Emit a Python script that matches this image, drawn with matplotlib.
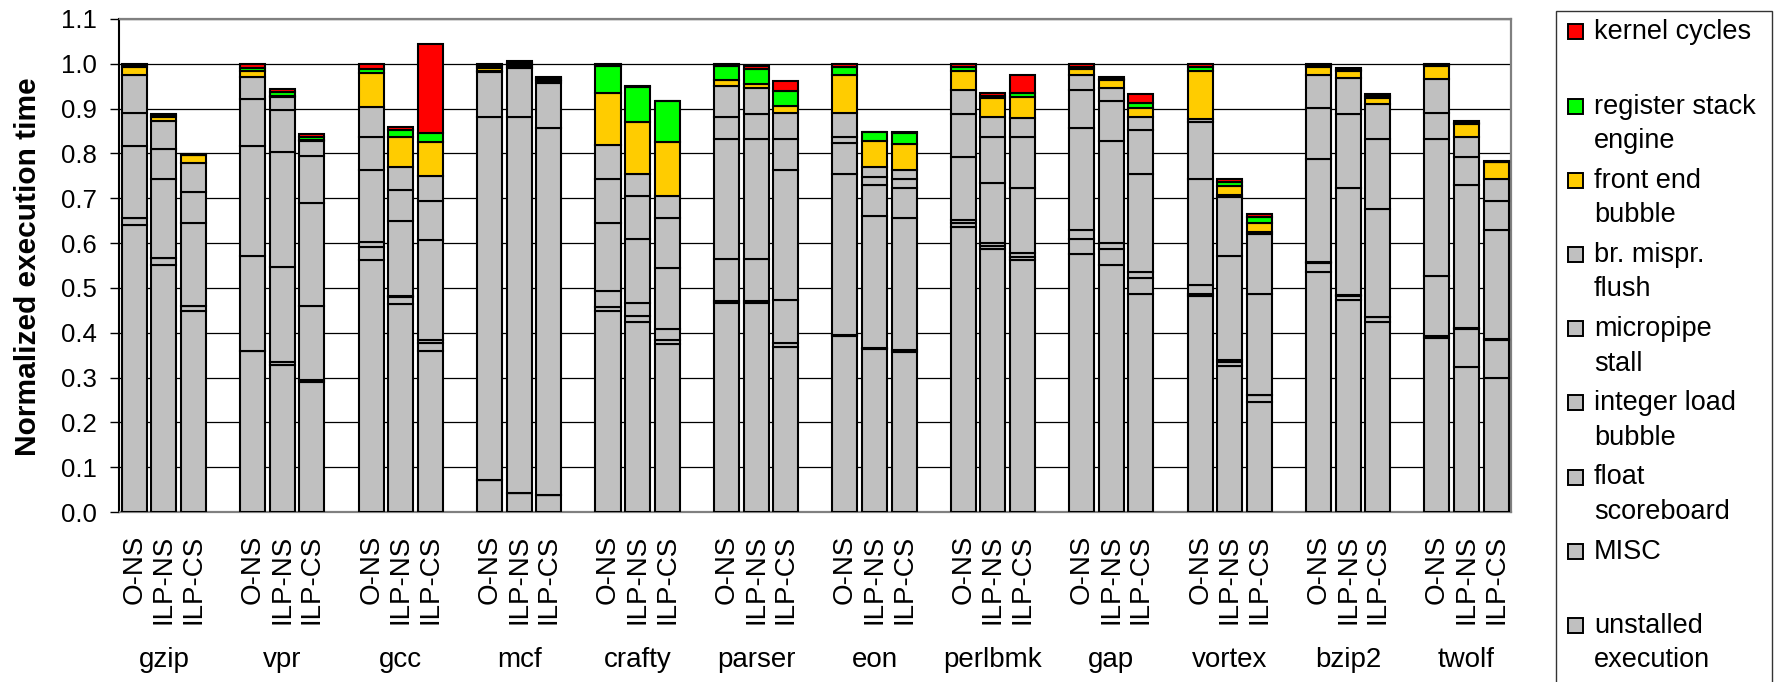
import numpy as np
import matplotlib
matplotlib.use('Agg')
import matplotlib.pyplot as plt
from matplotlib.patches import Rectangle
from matplotlib.transforms import blended_transform_factory

plt.rcParams['font.family'] = ['Liberation Sans', 'DejaVu Sans']

# benchmarks and the three configurations per benchmark
benchmarks = ['gzip', 'vpr', 'gcc', 'mcf', 'crafty', 'parser',
              'eon', 'perlbmk', 'gap', 'vortex', 'bzip2', 'twolf']
configs = ['O-NS', 'ILP-NS', 'ILP-CS']

# stacked components, bottom to top
unstalled = [.640, .552, .448, .359, .327, .290, .562, .464, .359, .071, .042, .037,
             .448, .423, .374, .466, .466, .368, .393, .363, .357, .636, .586, .562,
             .575, .551, .487, .482, .325, .246, .536, .472, .424, .388, .324, .299]
misc = [.015, .015, .011, .000, .008, .005, .030, .015, .019, .000, .000, .000,
        .010, .015, .009, .005, .004, .010, .002, .002, .005, .009, .007, .007,
        .035, .035, .035, .005, .009, .014, .020, .010, .010, .005, .084, .084]
float_sb = [.000, .000, .000, .212, .212, .164, .011, .003, .006, .000, .000, .000,
            .035, .029, .025, .094, .095, .094, .359, .295, .293, .006, .007, .008,
            .020, .015, .014, .020, .006, .002, .002, .002, .002, .133, .002, .002]
int_load = [.162, .177, .186, .246, .257, .231, .160, .168, .222, .811, .840, .820,
            .152, .143, .137, .268, .268, .291, .070, .069, .069, .141, .134, .147,
            .227, .226, .218, .236, .231, .224, .229, .240, .239, .307, .319, .245]
micropipe = [.074, .065, .069, .104, .093, .104, .074, .069, .088, .100, .109, .101,
             .098, .095, .110, .049, .054, .070, .013, .019, .019, .095, .103, .113,
             .084, .090, .098, .128, .132, .135, .115, .163, .158, .058, .063, .064]
br_mispr = [.084, .064, .065, .050, .029, .034, .066, .050, .055, .003, .003, .003,
            .075, .049, .050, .068, .058, .058, .054, .021, .020, .054, .045, .041,
            .034, .028, .030, .006, .005, .003, .073, .082, .078, .075, .045, .049]
front_end = [.018, .008, .017, .013, .003, .002, .077, .067, .077, .005, .004, .004,
             .117, .117, .121, .014, .010, .014, .084, .058, .059, .044, .042, .048,
             .013, .018, .020, .107, .019, .021, .018, .015, .013, .029, .029, .038]
rse = [.004, .004, .001, .006, .008, .006, .009, .016, .019, .005, .004, .003,
       .060, .078, .090, .031, .034, .035, .018, .020, .024, .009, .005, .008,
       .006, .004, .010, .010, .010, .013, .003, .003, .004, .002, .003, .001]
kernel = [.003, .003, .001, .010, .006, .007, .011, .006, .200, .005, .004, .003,
          .005, .001, .001, .005, .006, .021, .007, .001, .001, .006, .006, .041,
          .006, .004, .020, .006, .007, .008, .004, .004, .004, .003, .004, .001]

gray = '#C0C0C0'
layers = [
    ('unstalled\nexecution', unstalled, gray),
    ('MISC', misc, gray),
    ('float\nscoreboard', float_sb, gray),
    ('integer load\nbubble', int_load, gray),
    ('micropipe\nstall', micropipe, gray),
    ('br. mispr.\nflush', br_mispr, gray),
    ('front end\nbubble', front_end, '#FFCC00'),
    ('register stack\nengine', rse, '#00FF00'),
    ('kernel cycles', kernel, '#FF0000'),
]

W, H = 1783, 682
fig = plt.figure(figsize=(W / 100, H / 100), dpi=100)
ax = fig.add_axes([119.5 / W, 170 / H, (1511 - 119.5) / W, 493 / H])

# each benchmark takes 4 slots: 3 bars and a gap
x = np.array([g * 4 + k for g in range(len(benchmarks)) for k in range(len(configs))])

bottom = np.zeros(len(x))
for name, vals, color in layers:
    vals = np.array(vals)
    ax.bar(x, vals, width=0.845, bottom=bottom, color=color,
           edgecolor='black', linewidth=1.5, zorder=3)
    bottom += vals

ax.set_xlim(-0.5, 46.5)
ax.set_ylim(0, 1.1)
yt = np.arange(0, 1.101, 0.1)
ax.set_yticks(yt)
ax.set_yticklabels([f'{v:.1f}' for v in yt], fontsize=18.5)
ax.yaxis.grid(True, color='black', linewidth=0.9, zorder=0)
ax.set_axisbelow(True)

ax.set_xticks(x)
ax.set_xticklabels(configs * len(benchmarks), rotation=90, fontsize=20)
ax.tick_params(axis='x', length=0, pad=16.5)
ax.tick_params(axis='y', length=6.7, width=1, direction='out', pad=9.8)

ax.spines['left'].set_color('black')
ax.spines['left'].set_linewidth(1.5)
for s in ['top', 'right', 'bottom']:
    ax.spines[s].set_color('#808080')
    ax.spines[s].set_linewidth(1.6)

# benchmark names under the config labels
trans = blended_transform_factory(ax.transData, fig.transFigure)
for g, name in enumerate(benchmarks):
    ax.text(g * 4 + 1, 1 - 667 / H, name, transform=trans,
            ha='center', va='baseline', fontsize=20)

fig.text(28 / W, 1 - 266.5 / H, 'Normalized execution time', rotation=90,
         ha='center', va='center', fontsize=21.5, fontweight='bold')

# legend box drawn by hand, top entry first
fig.add_artist(Rectangle((1556 / W, -0.05), 216 / W, 1.05 - 10.7 / H,
                         transform=fig.transFigure, fill=False,
                         edgecolor='#333333', linewidth=1.0))
for i, (name, vals, color) in enumerate(layers[::-1]):
    base = 39.3 + i * 74.2
    fig.add_artist(Rectangle((1568 / W, 1 - base / H), 15 / W, 15 / H,
                             transform=fig.transFigure, facecolor=color,
                             edgecolor='black', linewidth=1.4))
    for j, line in enumerate(name.split('\n')):
        fig.text(1594 / W, 1 - (base + j * 34.5) / H, line,
                 ha='left', va='baseline', fontsize=19.5)

fig.savefig('out.png', dpi=100)
plt.close(fig)
